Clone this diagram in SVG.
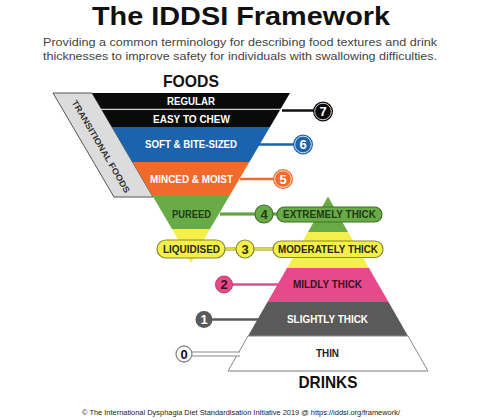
<svg xmlns="http://www.w3.org/2000/svg" width="500" height="420" viewBox="0 0 500 420">
<style>
text{font-family:"Liberation Sans",Arial,sans-serif;font-weight:bold;text-anchor:middle}
.lbl{font-size:10px}
.num{font-size:13px}
.w{fill:#fff}
.dk{fill:#222}
</style>
<rect width="500" height="420" fill="#fff"/>
<g id="header">
<text x="241" y="25" font-size="25" textLength="298" lengthAdjust="spacingAndGlyphs" fill="#111">The IDDSI Framework</text>
<text x="240" y="45.5" font-size="11.5" font-weight="normal" style="font-weight:normal" textLength="394" lengthAdjust="spacingAndGlyphs" fill="#444">Providing a common terminology for describing food textures and drink</text>
<text x="240" y="59.5" font-size="11.5" style="font-weight:normal" textLength="394" lengthAdjust="spacingAndGlyphs" fill="#444">thicknesses to improve safety for individuals with swallowing difficulties.</text>
</g>
<g id="connectors">
<line x1="282" y1="110.5" x2="318" y2="110.5" stroke="#111" stroke-width="2.5"/>
<line x1="258" y1="144.5" x2="296" y2="144.5" stroke="#1b63ad" stroke-width="2.5"/>
<line x1="240" y1="179" x2="276" y2="179" stroke="#f26a2b" stroke-width="2.5"/>
<line x1="220" y1="214" x2="279" y2="214" stroke="#4f8a33" stroke-width="3"/>
<line x1="220" y1="214" x2="279" y2="214" stroke="#69ac47" stroke-width="1.5"/>
<line x1="224" y1="249" x2="275" y2="249" stroke="#8a8a2a" stroke-width="3"/>
<line x1="224" y1="249" x2="275" y2="249" stroke="#f4ef4a" stroke-width="1.5"/>
<line x1="230" y1="284.5" x2="284" y2="284.5" stroke="#e64a8a" stroke-width="2.5"/>
<line x1="210" y1="319.5" x2="262" y2="319.5" stroke="#5a5a5a" stroke-width="2.5"/>
</g>
<g id="transitional">
<polygon points="53,93 92,93 153,197 114,197" fill="#dcdcdc" stroke="#555" stroke-width="1"/>
<text transform="translate(101,146.5) rotate(59.6)" y="3" font-size="8.5" textLength="106" lengthAdjust="spacingAndGlyphs" fill="#333">TRANSITIONAL FOODS</text>
</g>
<g id="foods">
<text x="191" y="87" font-size="16.5" textLength="56" lengthAdjust="spacingAndGlyphs" fill="#111">FOODS</text>
<polygon points="92,93 290,93 270,127 112,127" fill="#0a0a0a"/>
<line x1="101" y1="109.3" x2="281" y2="109.3" stroke="#fff" stroke-width="1"/>
<polygon points="112,127 270,127 249.4,162 132.6,162" fill="#1b63ad"/>
<polygon points="132.6,162 249.4,162 229.4,196 152.6,196" fill="#f26a2b"/>
<polygon points="152.6,196 229.4,196 210,229 172,229" fill="#69ac47"/>
<polygon points="172,229 210,229 191,263" fill="#f4ef4a"/>
</g>
<g id="drinks">
<polygon points="328,196.5 348,232 308,232" fill="#69ac47"/>
<polygon points="308,232 348,232 369,268 287,268" fill="#f4ef4a"/>
<polygon points="287,268 369,268 388.5,302 267.5,302" fill="#e64a8a"/>
<polygon points="267.5,302 388.5,302 408,336 248,336" fill="#5a5a5a"/>
<polygon points="248,336 408,336 428,371 228,371" fill="#fff" stroke="#888" stroke-width="1"/>
<line x1="228" y1="371" x2="428" y2="371" stroke="#bbb" stroke-width="2"/>
<text x="328" y="388" font-size="16.5" textLength="59" lengthAdjust="spacingAndGlyphs" fill="#111">DRINKS</text>
</g>
<g id="conn0">
<line x1="190" y1="354" x2="240" y2="354" stroke="#888" stroke-width="5"/>
<line x1="190" y1="354" x2="242" y2="354" stroke="#fff" stroke-width="3"/>
</g>
<g id="level7">
<text class="lbl w" x="191" y="105" textLength="48" lengthAdjust="spacingAndGlyphs">REGULAR</text>
<text class="lbl w" x="191.5" y="123" textLength="77" lengthAdjust="spacingAndGlyphs">EASY TO CHEW</text>
<circle cx="323" cy="111.5" r="10" fill="#0a0a0a"/>
<circle cx="323" cy="111.5" r="8.3" fill="none" stroke="#fff" stroke-width="0.8"/>
<text class="num w" x="323" y="116">7</text>
</g>
<g id="level6">
<text class="lbl w" x="191" y="147.5" textLength="92" lengthAdjust="spacingAndGlyphs">SOFT &amp; BITE-SIZED</text>
<circle cx="303" cy="144.5" r="10" fill="#1b63ad"/>
<circle cx="303" cy="144.5" r="8.3" fill="none" stroke="#fff" stroke-width="0.8"/>
<text class="num w" x="303" y="149">6</text>
</g>
<g id="level5">
<text class="lbl w" x="191.5" y="183" textLength="83" lengthAdjust="spacingAndGlyphs">MINCED &amp; MOIST</text>
<circle cx="283" cy="179" r="10" fill="#f26a2b"/>
<circle cx="283" cy="179" r="8.3" fill="none" stroke="#fff" stroke-width="0.8"/>
<text class="num w" x="283" y="183.5">5</text>
</g>
<g id="level4">
<text class="lbl" x="191.5" y="218" textLength="39" lengthAdjust="spacingAndGlyphs" fill="#1f3a14">PUREED</text>
<circle cx="264" cy="214" r="9" fill="#69ac47" stroke="#3f6f2a" stroke-width="1.2"/>
<text class="num" x="264" y="218.5" fill="#1f3a14">4</text>
<rect x="277" y="207" width="105" height="15" rx="7.5" fill="#69ac47" stroke="#3f6f2a" stroke-width="1.2"/>
<text class="lbl" x="329.5" y="218" textLength="93" lengthAdjust="spacingAndGlyphs" fill="#1f3a14">EXTREMELY THICK</text>
</g>
<g id="level3">
<rect x="157" y="240" width="68" height="18" rx="9" fill="#f4ef4a" stroke="#8a8a2a" stroke-width="1.2"/>
<text class="lbl" x="191.5" y="252.5" textLength="57" lengthAdjust="spacingAndGlyphs" fill="#2a2a10">LIQUIDISED</text>
<circle cx="245" cy="249" r="9" fill="#f4ef4a" stroke="#8a8a2a" stroke-width="1.2"/>
<text class="num" x="245" y="253.5" fill="#2a2a10">3</text>
<rect x="273" y="241" width="110" height="16.5" rx="8.25" fill="#f4ef4a" stroke="#8a8a2a" stroke-width="1.2"/>
<text class="lbl" x="328" y="252.5" textLength="100" lengthAdjust="spacingAndGlyphs" fill="#2a2a10">MODERATELY THICK</text>
</g>
<g id="level2">
<text class="lbl" x="327.5" y="287.5" textLength="69" lengthAdjust="spacingAndGlyphs" fill="#3a1020">MILDLY THICK</text>
<circle cx="224" cy="284.5" r="8.5" fill="#e64a8a" stroke="#b83a6e" stroke-width="1"/>
<text class="num" x="224" y="289" fill="#3a1020">2</text>
</g>
<g id="level1">
<text class="lbl w" x="327.5" y="322.5" textLength="81" lengthAdjust="spacingAndGlyphs">SLIGHTLY THICK</text>
<circle cx="204" cy="319.5" r="8.5" fill="#5a5a5a"/>
<text class="num w" x="204" y="324">1</text>
</g>
<g id="level0">
<text class="lbl" x="327.5" y="357" textLength="23" lengthAdjust="spacingAndGlyphs" fill="#222">THIN</text>
<circle cx="184" cy="354" r="8" fill="#fff" stroke="#888" stroke-width="1.3"/>
<text class="num" x="184" y="358.5" fill="#111">0</text>
</g>
<g id="footer">
<text x="241" y="415" font-size="7.5" style="font-weight:normal" textLength="318" lengthAdjust="spacingAndGlyphs" fill="#222">© The International Dysphagia Diet Standardisation Initiative 2019 @ https://iddsi.org/framework/</text>
</g>
</svg>
